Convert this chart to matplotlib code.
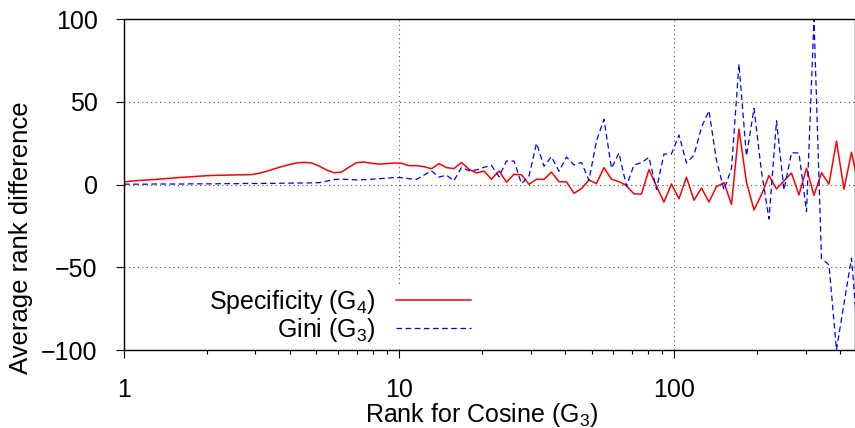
import matplotlib
matplotlib.use('Agg')
import matplotlib.pyplot as plt
from matplotlib.ticker import FixedLocator, FixedFormatter, NullFormatter

# rank bins (log spaced) for cosine
ranks = [1.00, 1.06, 1.13, 1.21, 1.29, 1.37, 1.46, 1.55, 1.65, 1.76,
         1.87, 1.99, 2.12, 2.26, 2.41, 2.56, 2.73, 2.91, 3.10, 3.30,
         3.51, 3.74, 3.98, 4.24, 4.51, 4.80, 5.11, 5.44, 5.80, 6.17,
         6.57, 7.00, 7.45, 7.93, 8.45, 8.99, 9.57, 10.19, 10.85, 11.56,
         12.30, 13.10, 13.95, 14.85, 15.81, 16.84, 17.93, 19.09, 20.33, 21.64,
         23.05, 24.54, 26.13, 27.82, 29.62, 31.54, 33.58, 35.75, 38.07, 40.53,
         43.15, 45.95, 48.92, 52.09, 55.46, 59.05, 62.87, 66.94, 71.28, 75.89,
         80.80, 86.04, 91.61, 97.54, 103.9, 110.6, 117.8, 125.4, 133.5, 142.1,
         151.4, 161.2, 171.6, 182.7, 194.6, 207.2, 220.6, 234.9, 250.1, 266.3,
         283.5, 301.9, 321.4, 342.2, 364.4, 388.0, 413.1, 439.9, 468.4]

# average rank difference, specificity (G4)
specificity = [1.6, 2.0, 2.4, 2.7, 3.0, 3.4, 3.7, 4.1, 4.4, 4.7,
               5.0, 5.3, 5.5, 5.6, 5.7, 5.8, 5.9, 6.0, 6.8, 8.0,
               9.4, 10.8, 12.0, 13.0, 13.4, 13.0, 11.2, 8.8, 7.1, 7.5,
               10.5, 13.2, 13.6, 12.8, 12.3, 12.6, 13.0, 12.8, 11.4, 11.4,
               10.8, 9.5, 12.6, 10.2, 9.6, 13.3, 9.2, 7.0, 8.1, 3.2,
               8.2, 1.4, 6.2, 5.8, 0.1, 3.2, 3.1, 7.5, 1.7, 1.6,
               -5.3, -2.5, 2.7, 0.6, 10.2, 3.2, 1.7, -0.6, -5.7, -5.8,
               9.0, -1.0, -10.6, 0.3, -8.6, 4.4, -9.5, -2.1, -10.6, -1.3,
               1.1, -12.0, 33.4, 1.4, -15.4, -6.1, 5.4, -2.7, 2.2, 6.9,
               -6.3, 9.8, -6.5, 7.1, 0.2, 26.2, -2.8, 19.5, -2.0]

# average rank difference, gini (G3)
gini = [0.2, 0.2, 0.2, 0.2, 0.3, 0.3, 0.3, 0.3, 0.3, 0.4,
        0.4, 0.4, 0.4, 0.5, 0.5, 0.5, 0.6, 0.6, 0.6, 0.7,
        0.7, 0.8, 0.8, 0.9, 0.9, 1.0, 1.1, 2.0, 3.0, 3.2,
        3.0, 2.8, 2.9, 3.2, 3.5, 3.8, 4.2, 4.1, 3.5, 3.1,
        5.7, 8.2, 4.5, 5.6, 2.3, 10.4, 8.3, 8.8, 10.4, 11.5,
        4.7, 14.2, 14.2, 0.5, 5.2, 24.9, 11.0, 16.8, 8.0, 16.6,
        11.8, 13.3, 2.5, 26.4, 39.4, 9.8, 19.0, -1.0, 11.8, 13.2,
        16.4, -2.9, 18.4, 18.4, 29.9, 13.0, 17.8, 34.6, 44.6, 14.8,
        -3.3, 9.8, 72.8, 17.2, 46.0, 7.7, -20.8, 38.5, -3.3, 19.2,
        19.0, -16.4, 100.0, -44.6, -48.6, -100.0, -72.0, -44.5, -100.0]

xticks = [1, 10, 100]
xticklabels = ['1', '10', '100']
yticks = [-100, -50, 0, 50, 100]

plt.rcParams['font.family'] = ['Liberation Sans', 'DejaVu Sans']
plt.rcParams['mathtext.fontset'] = 'custom'
plt.rcParams['mathtext.rm'] = 'Liberation Sans'
plt.rcParams['mathtext.it'] = 'Liberation Sans:italic'
plt.rcParams['mathtext.default'] = 'regular'

fig = plt.figure(figsize=(8.55, 4.28), dpi=100)
ax = fig.add_axes([124 / 855, 1 - 350 / 428, 731 / 855, 331 / 428])

ax.plot(ranks, specificity, color='#ff0000', lw=1.1, label='Specificity (G$_4$)')
ax.plot(ranks, gini, color='#0000ff', lw=0.9, dashes=(4.5, 2.8), label='Gini (G$_3$)')

ax.set_xscale('log')
ax.set_xlim(1, 453)
ax.set_ylim(-100, 100)
ax.xaxis.set_major_locator(FixedLocator(xticks))
ax.xaxis.set_major_formatter(FixedFormatter(xticklabels))
minor = [m * d for d in (1, 10, 100) for m in range(2, 10) if m * d < 453]
ax.xaxis.set_minor_locator(FixedLocator(minor))
ax.xaxis.set_minor_formatter(NullFormatter())
ax.set_yticks(yticks)

ax.tick_params(axis='both', which='major', direction='out', length=6, width=0.8, labelsize=18)
ax.tick_params(axis='x', which='minor', direction='out', length=3, width=0.8)
ax.tick_params(axis='x', which='major', pad=14)
ax.tick_params(axis='y', which='major', pad=13)
ax.tick_params(top=False, right=False)

ax.grid(True, which='major', color='0.3', lw=0.8, linestyle=(0, (1, 3)))
for s in ax.spines.values():
    s.set_linewidth(1.0)

ax.set_xlabel('Rank for Cosine (G$_3$)', fontsize=18)
ax.set_ylabel('Average rank difference', fontsize=18.5)
ax.xaxis.set_label_coords(0.49, -0.155, transform=ax.transAxes)
ax.yaxis.set_label_coords(-0.124, 0.34, transform=ax.transAxes)

leg = ax.legend(loc='upper right', bbox_to_anchor=(0.478, 0.195), fontsize=18,
                markerfirst=False, frameon=True, fancybox=False,
                handlelength=3.0, handletextpad=0.8, labelspacing=0.0,
                borderpad=0.1, borderaxespad=0)
leg.get_frame().set_facecolor('white')
leg.get_frame().set_edgecolor('none')
leg.get_frame().set_alpha(1)
for t in leg.get_texts():
    t.set_ha('right')

fig.savefig('out.png', dpi=100)
